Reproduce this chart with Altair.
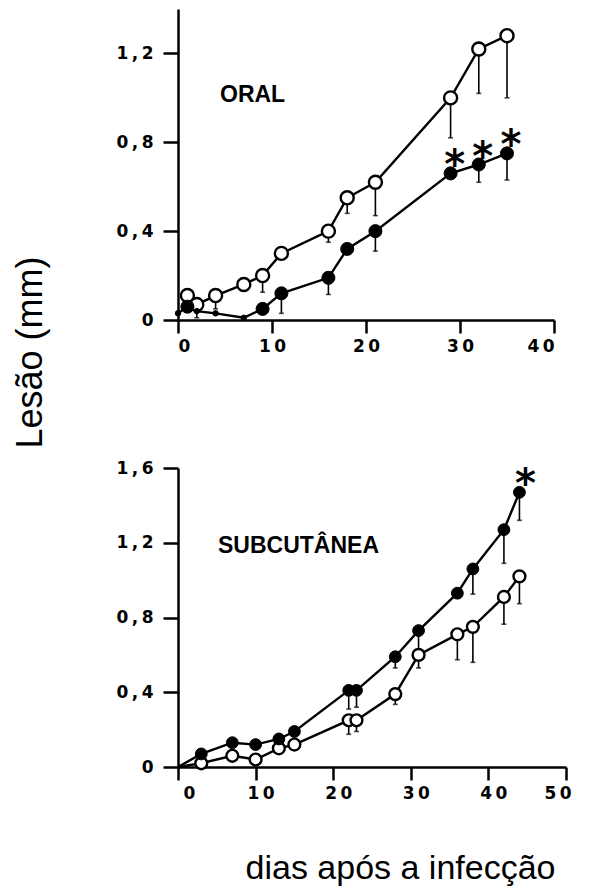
import altair as alt
import pandas as pd

# ---------------- ORAL ----------------
oral_aberto_dias = [1, 2, 4, 7, 9, 11, 16, 18, 21, 29, 32, 35]
oral_aberto_lesao = [0.11, 0.07, 0.11, 0.16, 0.20, 0.30, 0.40, 0.55, 0.62, 1.00, 1.22, 1.28]
oral_aberto_erro = [0, 0, 0.06, 0, 0.075, 0, 0.05, 0.07, 0.15, 0.18, 0.20, 0.28]

oral_fechado_dias = [0, 1, 2, 4, 7, 9, 11, 16, 18, 21, 29, 32, 35]
oral_fechado_lesao = [0.03, 0.06, 0.04, 0.03, 0.01, 0.05, 0.12, 0.19, 0.32, 0.40, 0.66, 0.70, 0.75]
oral_fechado_erro = [0, 0, 0.03, 0, 0, 0, 0.09, 0.075, 0, 0.09, 0, 0.08, 0.12]
oral_asteriscos = [29, 32, 35]

# ---------------- SUBCUTÂNEA ----------------
subc_dias = [0, 3, 7, 10, 13, 15, 22, 23, 28, 31, 36, 38, 42, 44]
subc_fechado_lesao = [0, 0.07, 0.13, 0.12, 0.15, 0.19, 0.41, 0.41, 0.59, 0.73, 0.93, 1.06, 1.27, 1.47]
subc_fechado_erro = [0, 0, 0, 0, 0, 0, 0.10, 0.09, 0.06, 0.10, 0, 0.135, 0.18, 0.15]
subc_aberto_lesao = [0, 0.02, 0.06, 0.04, 0.10, 0.12, 0.25, 0.25, 0.39, 0.60, 0.71, 0.75, 0.91, 1.02]
subc_aberto_erro = [0, 0, 0, 0, 0, 0, 0.075, 0.06, 0.055, 0.07, 0.136, 0.19, 0.146, 0.146]
subc_asteriscos = [44]

titulos = ["ORAL", "SUBCUTÂNEA"]
eixo_x_titulo = "dias após a infecção"
eixo_y_titulo = "Lesão (mm)"


def frame(dias_a, les_a, err_a, dias_f, les_f, err_f):
    a = pd.DataFrame({"dia": dias_a, "lesao": les_a, "erro": err_a, "grupo": "aberto"})
    f = pd.DataFrame({"dia": dias_f, "lesao": les_f, "erro": err_f, "grupo": "fechado"})
    return pd.concat([a, f], ignore_index=True)


oral_df = frame(oral_aberto_dias, oral_aberto_lesao, oral_aberto_erro,
                oral_fechado_dias, oral_fechado_lesao, oral_fechado_erro)
subc_df = frame(subc_dias, subc_aberto_lesao, subc_aberto_erro,
                subc_dias, subc_fechado_lesao, subc_fechado_erro)

LABEL_FONT = "DejaVu Sans"
TEXT_FONT = "Liberation Sans"
SPACED = "replace({s}, regexp('(.)(?=.)', 'g'), '$1\u2009')"
X_LABEL = SPACED.format(s="format(datum.value, 'd')")
Y_LABEL = SPACED.format(s="replace(format(datum.value, '.1~f'), '.', ',')")


def panel(df, titulo, xmax, xvals, ymax, yvals, w, h, estrelas, tit_pos,
          size_pt, small_days, x_axis_extra, y_axis_extra, label_offset, star_dx):
    x = alt.X("dia:Q",
              scale=alt.Scale(domain=[0, xmax], nice=False, zero=True),
              axis=alt.Axis(values=xvals, grid=False, labelFont=LABEL_FONT,
                            labelFontWeight="bold", labelFontSize=17,
                            labelColor="black", labelPadding=5,
                            labelOffset=label_offset, labelExpr=X_LABEL,
                            domainColor="black", domainWidth=2.5,
                            tickColor="black", tickWidth=2.5, tickSize=13,
                            **x_axis_extra))
    y = alt.Y("lesao:Q",
              scale=alt.Scale(domain=[0, ymax], nice=False, zero=True),
              axis=alt.Axis(values=yvals, grid=False, labelFont=LABEL_FONT,
                            labelFontWeight="bold", labelFontSize=17,
                            labelColor="black", labelPadding=10,
                            labelExpr=Y_LABEL,
                            domainColor="black", domainWidth=2.5,
                            tickColor="black", tickWidth=2.5, tickSize=15,
                            **y_axis_extra))
    base = alt.Chart(df)

    lines = base.mark_line(color="black", strokeWidth=2.4).encode(
        x=x, y=y, detail="grupo:N", order="dia:Q")

    err = base.transform_filter("datum.erro > 0").transform_calculate(
        low="datum.lesao - datum.erro")
    rules = err.mark_rule(color="black", strokeWidth=1.6).encode(
        x="dia:Q", y="lesao:Q", y2="low:Q")
    caps = err.mark_tick(color="black", orient="horizontal", size=5,
                         thickness=1.6).encode(x="dia:Q", y="low:Q")

    pts_base = base.transform_filter("datum.dia > 0 || datum.lesao > 0")
    open_pts = pts_base.transform_filter("datum.grupo == 'aberto'").mark_point(
        shape="circle", filled=True, fill="white", stroke="black",
        strokeWidth=2.4, opacity=1).encode(x="dia:Q", y="lesao:Q",
                                           size=alt.value(size_pt))
    closed_pts = pts_base.transform_filter("datum.grupo == 'fechado'").mark_point(
        shape="circle", filled=True, fill="black", stroke="black",
        strokeWidth=1, opacity=1).encode(
        x="dia:Q", y="lesao:Q",
        size=alt.condition(alt.FieldOneOfPredicate(field="dia", oneOf=small_days),
                           alt.value(30), alt.value(size_pt)))

    stars = base.transform_filter("datum.grupo == 'fechado'").transform_filter(
        alt.FieldOneOfPredicate(field="dia", oneOf=estrelas)).mark_text(
        text="*", font="DejaVu Sans", fontWeight="bold", fontSize=40,
        color="black", dx=star_dx, dy=5,
        baseline="alphabetic", align="center").encode(x="dia:Q", y="lesao:Q")

    label = alt.Chart(pd.DataFrame({"t": [titulo]})).mark_text(
        font=TEXT_FONT, fontWeight="bold", fontSize=23, color="black",
        align="left", baseline="alphabetic").encode(
        text="t:N", x=alt.value(tit_pos[0]), y=alt.value(tit_pos[1]))

    return alt.layer(lines, rules, caps, open_pts, closed_pts, stars, label).properties(
        width=w, height=h)


top = panel(oral_df, titulos[0], 40, [0, 10, 20, 30, 40], 1.4, [0, 0.4, 0.8, 1.2],
            376, 311, oral_asteriscos, (42, 93), 170, [0, 2, 4, 7],
            dict(title=None),
            dict(title=eixo_y_titulo, titleFont=TEXT_FONT, titleFontSize=36,
                 titleFontWeight="normal", titleColor="black", titleAngle=270,
                 titleX=-148, titleY=343, titleAlign="center",
                 titleBaseline="middle"),
            0, 4)

bottom = panel(subc_df, titulos[1], 50, [0, 10, 20, 30, 40, 50], 1.6,
               [0, 0.4, 0.8, 1.2, 1.6], 388, 299, subc_asteriscos, (40, 85), 140,
               [-1],
               dict(title=eixo_x_titulo, titleFont=TEXT_FONT, titleFontSize=34,
                    titleFontWeight="normal", titleColor="black",
                    titleX=222, titleY=111, titleAlign="center",
                    titleBaseline="alphabetic"),
               dict(title=None),
               5, 6)

chart = alt.vconcat(top, bottom, spacing=148, bounds="flush").properties(
    padding={"left": 4, "top": 1, "right": 5, "bottom": 5},
    background="white",
).configure_view(strokeWidth=0)

chart.save("out.html", embed_options={"renderer": "svg", "actions": False})
